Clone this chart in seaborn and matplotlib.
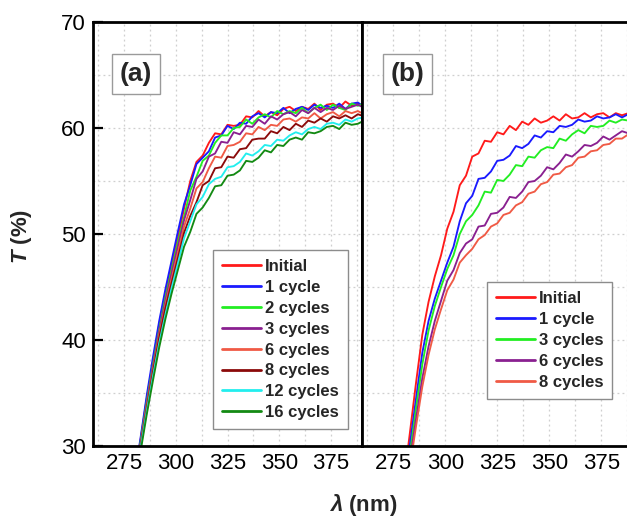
import numpy as np
import pandas as pd
import matplotlib
matplotlib.use("Agg")
import matplotlib.pyplot as plt
from matplotlib.ticker import MultipleLocator
import seaborn as sns

# ---------------- data ----------------
wavelength = [280, 283, 286, 289, 292, 295, 298, 301, 304, 307, 310, 313, 316, 319,
              322, 325, 328, 331, 334, 337, 340, 343, 346, 349, 352, 355, 358, 361,
              364, 367, 370, 373, 376, 379, 382, 385, 388, 391]

labels_a = ["Initial", "1 cycle", "2 cycles", "3 cycles", "6 cycles", "8 cycles",
            "12 cycles", "16 cycles"]
a_initial = [26.8, 30.6, 34.5, 38.0, 41.5, 44.4, 47.0, 49.6, 52.4, 55.0,
             56.8, 57.4, 58.6, 59.5, 59.4, 60.3, 60.2, 60.3, 61.1, 61.0, 61.6, 61.1, 61.5, 61.2,
             61.8, 62.0, 61.6, 62.0, 61.8, 62.3, 61.7, 62.2, 62.3, 61.9, 62.5, 62.1, 62.3, 62.0]
a_1cyc = [27.0, 30.8, 34.8, 38.4, 41.8, 44.8, 47.5, 50.2, 52.8, 54.6,
          56.6, 57.2, 57.8, 59.1, 59.3, 60.2, 59.9, 60.5, 60.4, 61.1, 61.4, 61.0, 61.5, 61.4,
          61.9, 61.4, 61.8, 62.0, 61.7, 62.2, 61.9, 62.1, 61.9, 62.3, 61.8, 62.3, 62.4, 62.0]
a_2cyc = [26.7, 30.4, 34.2, 37.7, 41.0, 44.0, 46.6, 49.2, 51.6, 54.1,
          55.4, 56.9, 57.4, 58.6, 59.3, 59.3, 60.0, 60.1, 60.8, 60.4, 61.0, 61.3, 61.0, 61.6,
          61.3, 61.6, 61.4, 61.9, 61.4, 61.9, 62.2, 61.7, 62.2, 61.9, 61.7, 62.3, 62.1, 62.3]
a_3cyc = [26.6, 30.2, 34.0, 37.5, 40.8, 43.7, 46.3, 48.8, 51.3, 53.2,
          55.2, 55.9, 57.3, 57.6, 58.7, 58.6, 59.6, 59.4, 60.2, 60.1, 60.8, 60.4, 61.1, 60.8,
          61.3, 61.5, 61.1, 61.7, 61.4, 61.9, 61.5, 61.9, 61.7, 62.1, 61.8, 62.0, 62.2, 61.9]
a_6cyc = [26.5, 30.1, 33.8, 37.2, 40.5, 43.3, 45.8, 48.2, 50.7, 52.4,
          54.3, 54.9, 56.2, 57.3, 57.2, 58.3, 58.4, 58.7, 59.5, 59.4, 60.1, 59.8, 60.3, 60.2,
          60.8, 60.9, 60.6, 61.0, 60.9, 61.4, 60.9, 61.3, 61.5, 61.1, 61.6, 61.4, 61.6, 61.3]
a_8cyc = [26.4, 30.0, 33.6, 37.0, 40.2, 43.0, 45.4, 47.7, 50.1, 51.7,
          53.0, 54.6, 55.0, 56.2, 56.3, 57.3, 57.2, 58.0, 58.1, 58.9, 59.0, 59.0, 59.7, 59.5,
          60.1, 59.8, 60.4, 60.1, 60.7, 60.5, 60.9, 60.6, 61.1, 60.9, 61.2, 60.9, 61.3, 61.1]
a_12cyc = [26.2, 29.8, 33.3, 36.6, 39.7, 42.4, 44.9, 47.2, 49.6, 51.2,
           52.8, 53.5, 54.7, 55.2, 55.4, 56.3, 56.4, 56.8, 57.6, 57.4, 57.8, 58.4, 58.3, 58.9,
           58.8, 59.3, 59.6, 59.4, 59.9, 60.1, 59.9, 60.4, 60.5, 60.3, 60.8, 60.6, 60.9, 61.0]
a_16cyc = [26.0, 29.5, 33.0, 36.2, 39.3, 42.0, 44.4, 46.6, 48.8, 50.2,
           51.9, 52.5, 53.4, 54.5, 54.6, 55.5, 55.6, 56.0, 56.9, 56.8, 57.2, 57.9, 57.7, 58.4,
           58.3, 58.9, 59.1, 58.9, 59.6, 59.5, 59.7, 60.1, 60.2, 59.9, 60.5, 60.3, 60.4, 60.7]

labels_b = ["Initial", "1 cycle", "3 cycles", "6 cycles", "8 cycles"]
b_initial = [26.5, 31.2, 36.0, 40.5, 43.6, 46.0, 48.0, 50.5, 52.1, 54.6,
             55.5, 57.3, 57.6, 58.8, 58.7, 59.6, 59.4, 60.2, 59.8, 60.6, 60.3, 60.9, 60.5, 60.7,
             61.1, 60.7, 61.3, 60.9, 61.0, 61.4, 61.0, 61.3, 61.4, 61.0, 61.4, 61.2, 61.4, 61.2]
b_1cyc = [25.8, 30.1, 34.5, 38.8, 41.8, 43.9, 45.6, 47.3, 48.8, 51.2,
          52.9, 53.6, 55.2, 55.3, 55.9, 56.9, 57.0, 57.4, 58.3, 58.1, 58.5, 59.3, 59.1, 59.7,
          59.6, 60.2, 60.1, 60.3, 60.8, 60.6, 60.7, 61.1, 60.9, 61.0, 61.3, 61.0, 61.3, 61.2]
b_3cyc = [25.2, 29.2, 33.6, 37.7, 40.9, 43.2, 45.0, 46.7, 48.0, 50.0,
          51.2, 51.8, 52.7, 54.0, 53.9, 55.1, 55.0, 55.6, 56.5, 56.4, 57.3, 57.2, 57.9, 58.2,
          58.1, 59.0, 58.8, 59.4, 59.8, 59.5, 60.2, 60.1, 60.2, 60.7, 60.5, 60.8, 60.7, 61.0]
b_6cyc = [24.5, 28.6, 32.6, 36.4, 39.4, 41.8, 43.7, 45.6, 46.6, 48.2,
          49.1, 49.5, 50.7, 50.8, 51.9, 52.0, 52.5, 53.5, 53.4, 54.0, 54.9, 55.0, 55.5, 56.3,
          56.1, 56.7, 57.5, 57.3, 57.8, 58.4, 58.3, 58.6, 59.2, 58.9, 59.3, 59.7, 59.5, 59.9]
b_8cyc = [24.0, 28.0, 31.9, 35.6, 38.6, 41.0, 42.9, 44.7, 45.7, 47.3,
          48.0, 48.6, 49.5, 49.9, 50.7, 51.0, 51.8, 52.0, 52.7, 53.0, 53.8, 54.0, 54.7, 54.9,
          55.6, 55.7, 56.3, 56.5, 57.2, 57.3, 57.8, 57.9, 58.4, 58.5, 59.0, 59.0, 59.4, 59.4]

x_ticks = [275, 300, 325, 350, 375]
y_ticks = [30, 40, 50, 60, 70]

colors = {"Initial": "#ff1a1a", "1 cycle": "#1a1aff", "2 cycles": "#22ee22",
          "3 cycles": "#8a2090", "6 cycles": "#f05a45", "8 cycles": "#8b0a0a",
          "12 cycles": "#22eeee", "16 cycles": "#138a13"}
colors_b = {"Initial": "#ff1a1a", "1 cycle": "#1a1aff", "3 cycles": "#22ee22",
            "6 cycles": "#8a2090", "8 cycles": "#f05a45"}

series_a = [a_initial, a_1cyc, a_2cyc, a_3cyc, a_6cyc, a_8cyc, a_12cyc, a_16cyc]
series_b = [b_initial, b_1cyc, b_3cyc, b_6cyc, b_8cyc]

def long_df(labels, series):
    rows = []
    for lab, vals in zip(labels, series):
        for w, v in zip(wavelength, vals):
            rows.append({"wl": w, "T": v, "sample": lab})
    return pd.DataFrame(rows)

df_a = long_df(labels_a, series_a)
df_b = long_df(labels_b, series_b)

# ---------------- style ----------------
sns.set_theme(style="white")
plt.rcParams["font.family"] = ["Liberation Sans", "DejaVu Sans"]
plt.rcParams["mathtext.fontset"] = "custom"
plt.rcParams["mathtext.it"] = "Liberation Sans:italic:bold"
plt.rcParams["mathtext.rm"] = "Liberation Sans:bold"

W, H = 627, 517
fig = plt.figure(figsize=(W / 100, H / 100), dpi=100)
ax_a = fig.add_axes([93 / W, (H - 446) / H, (362 - 93) / W, (446 - 22) / H])
ax_b = fig.add_axes([362 / W, (H - 446) / H, 270.4 / W, (446 - 22) / H])

for ax, df, pal, labs in [(ax_a, df_a, colors, labels_a), (ax_b, df_b, colors_b, labels_b)]:
    sns.lineplot(data=df, x="wl", y="T", hue="sample", hue_order=labs,
                 palette=pal, ax=ax, linewidth=1.35, sort=False, estimator=None)
    ax.set_xlim(260, 390)
    ax.set_ylim(30, 70)
    ax.set_xticks(x_ticks)
    ax.set_yticks(y_ticks)
    ax.xaxis.set_minor_locator(MultipleLocator(12.5))
    ax.yaxis.set_minor_locator(MultipleLocator(5))
    ax.grid(True, which="both", linestyle=(0, (1.5, 2.5)), color="#cfcfcf", linewidth=0.9)
    ax.set_axisbelow(True)
    ax.tick_params(which="major", direction="in", length=7, width=1.6,
                   labelsize=16, colors="black", pad=5)
    ax.tick_params(which="minor", length=0)
    for s in ax.spines.values():
        s.set_linewidth(2.0)
        s.set_color("black")
    ax.set_xlabel("")
    ax.set_ylabel("")

ax_a.tick_params(axis="y", left=True, right=False)
ax_b.tick_params(axis="y", left=False, labelleft=False)

leg_kw = dict(frameon=True, fancybox=False, framealpha=1, edgecolor="#8c8c8c",
              prop={"weight": "bold", "size": 12}, handlelength=2.3,
              handletextpad=0.25, labelspacing=0.35, borderpad=0.55,
              borderaxespad=0, loc="upper left", title=None)
leg_a = ax_a.legend(bbox_to_anchor=((213 - 93) / 269, (446 - 250) / 424), **leg_kw)
leg_b = ax_b.legend(bbox_to_anchor=((487 - 362) / 270.4, (446 - 282) / 424), **leg_kw)
for leg in (leg_a, leg_b):
    leg.get_frame().set_linewidth(1.0)
    for h in leg.get_lines():
        h.set_linewidth(2.0)

box = dict(boxstyle="square,pad=0.3", fc="white", ec="#9a9a9a", lw=1.0)
ax_a.text((136 - 93) / 269, (446 - 74) / 424, "(a)", transform=ax_a.transAxes,
          fontsize=19, fontweight="bold", ha="center", va="center", bbox=box)
ax_b.text((407.5 - 362) / 270.4, (446 - 74) / 424, "(b)", transform=ax_b.transAxes,
          fontsize=19, fontweight="bold", ha="center", va="center", bbox=box)

fig.text(21 / W, 1 - 236 / H, r"$T$ (%)", rotation=90, ha="center", va="center",
         fontsize=16, fontweight="bold")
fig.text(363 / W, 1 - 505 / H, r"$\lambda$ (nm)", ha="center", va="center",
         fontsize=16, fontweight="bold")

fig.savefig("out.png", dpi=100)
